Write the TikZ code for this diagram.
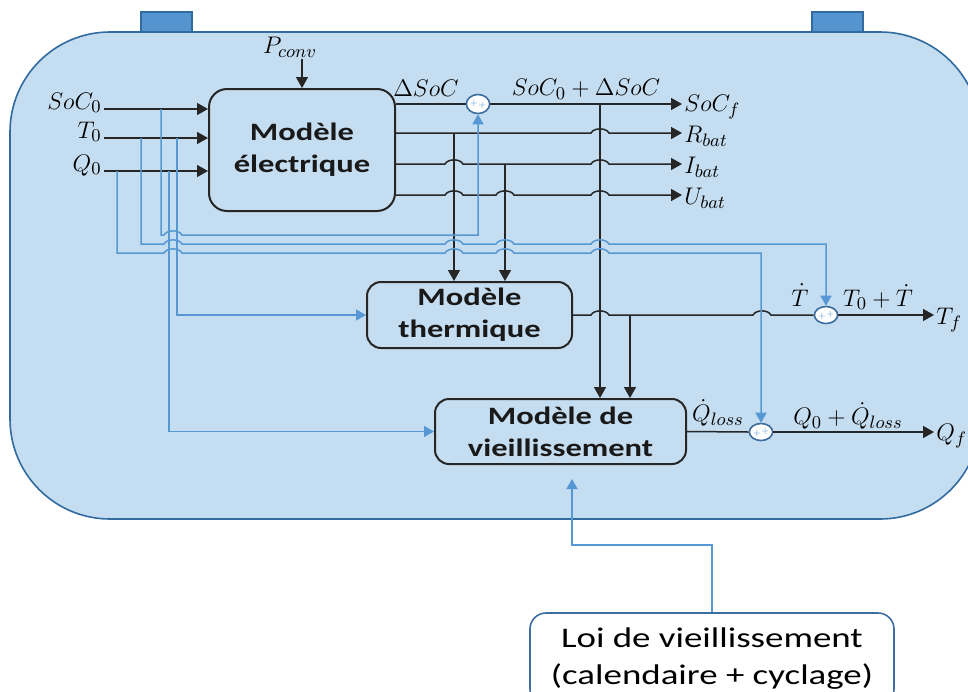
\documentclass[tikz,border=0pt]{standalone}
\usepackage{fontspec}
\usepackage{tikz}
\usetikzlibrary{positioning, arrows.meta, shapes.geometric}
\newfontfamily\boxfont[FakeStretch=1.3]{Carlito}
\DeclareMathSizes{12}{12}{9}{7}
\definecolor{batfill}{RGB}{197,221,240}
\definecolor{batedge}{RGB}{49,107,160}
\definecolor{termfill}{RGB}{84,148,207}
\definecolor{wireblue}{RGB}{86,152,212}
\definecolor{sumedge}{RGB}{60,110,160}
\newcommand{\hopat}[2]{-- (#1-9,#2) .. controls (#1-6,#2-5.5) and (#1+6,#2-5.5) .. (#1+9,#2)}

\begin{document}
\begin{tikzpicture}[x=0.5pt, y=-0.5pt,
  box/.style={draw=black!85, line width=1pt, rounded corners=7pt, inner sep=1pt,
              align=center, text=black!90,
              font=\boxfont\bfseries\fontsize{12.5}{16}\selectfont},
  lbl/.style={inner sep=1pt, font=\fontsize{12}{14}\selectfont},
  summer/.style={ellipse, draw=sumedge, line width=0.8pt, fill=white, inner sep=0pt,
                 minimum width=11pt, minimum height=8.5pt, text=wireblue,
                 font=\fontsize{4}{4}\selectfont},
  wire/.style={black!85, line width=0.75pt},
  arr/.style={wire, -{Triangle[length=5.5pt, width=6pt]}},
  bwire/.style={wireblue, line width=0.75pt},
  barr/.style={bwire, -{Triangle[length=5pt, width=5.5pt]}}
]
\useasboundingbox (0,0) rectangle (968,691);
\clip (0,0) rectangle (968,691);
\filldraw[fill=batfill, draw=batedge, line width=0.8pt, rounded corners=50pt] (10,32) rectangle (980,519);
\filldraw[fill=termfill, draw=batedge, line width=1pt] (141,12) rectangle (192,32);
\filldraw[fill=termfill, draw=batedge, line width=1pt] (812,12) rectangle (863,32);

\node[box, minimum width=93pt, minimum height=61pt, rounded corners=9pt] (elec) at (302,150) {Modèle\\électrique};
\node[box, minimum width=102.5pt, minimum height=33pt] (therm) at (469.5,315) {Modèle\\thermique};
\node[box, minimum width=125.5pt, minimum height=32.5pt] (vieil) at (560.5,431.5) {Modèle de\\vieillissement};
\node[draw=sumedge, fill=white, line width=0.8pt, rounded corners=8pt, minimum width=182pt,
      minimum height=46pt, align=center, font=\boxfont\fontsize{14.2}{18.5}\selectfont]
  (loi) at (712,659) {Loi de vieillissement\\(calendaire + cyclage)};

\node[lbl, anchor=base east] (soc0) at (104,109) {$SoC_0$};
\node[lbl, anchor=base east] (t0) at (104,138) {$T_0$};
\node[lbl, anchor=base east] (q0) at (104,171) {$Q_0$};
\node[lbl] (pconv) at (290,47) {$P_{conv}$};
\node[lbl, anchor=west] (socf) at (682,107) {$SoC_f$};
\node[lbl, anchor=west] (rbat) at (682,136) {$R_{bat}$};
\node[lbl, anchor=west] (ibat) at (682,167) {$I_{bat}$};
\node[lbl, anchor=west] (ubat) at (682,198) {$U_{bat}$};
\node[lbl, anchor=west] (tf) at (934,320) {$T_f$};
\node[lbl, anchor=west] (qf) at (934,436) {$Q_f$};

\node[summer, minimum width=10pt, minimum height=9.5pt] (sumsoc) at (478,104) {\raisebox{1pt}{+}+};
\node[summer] (sumt) at (826,315) {+\raisebox{1pt}{+}};
\node[summer] (sumq) at (761,432) {+\raisebox{1pt}{+}};

\node[lbl] (dsoc) at (426,88) {$\Delta SoC$};
\node[lbl] (socsum) at (586,89) {$SoC_0 + \Delta SoC$};
\node[lbl] (tdot) at (800,295) {$\dot{T}$};
\node[lbl] (tsum) at (878,297) {$T_0 + \dot{T}$};
\node[lbl] (qdot) at (718,413) {$\dot{Q}_{loss}$};
\node[lbl] (qsum) at (848,416) {$Q_0 + \dot{Q}_{loss}$};

\coordinate (socin) at (161,109);
\coordinate (tin1) at (141,138);
\coordinate (tin2) at (177,138);
\coordinate (qin1) at (117,171);
\coordinate (qin2) at (169,171);
\coordinate (rbr) at (454,133);
\coordinate (ibr) at (505,164);
\coordinate (ubr) at (395,195);
\coordinate (socbr) at (600,104);
\coordinate (tbr) at (630,315);

\draw[arr] (soc0.base east) -- (soc0.base east -| elec.west);
\draw[arr] (t0.base east) -- (t0.base east -| elec.west);
\draw[arr] (q0.base east) -- (q0.base east -| elec.west);
\draw[arr] (pconv.south -| elec.north) -- (elec.north);
\draw[wire] (elec.east |- sumsoc) -- (sumsoc.west);
\draw[arr] (sumsoc.east) -- (sumsoc.east -| socf.west);
\draw[arr] (elec.east |- rbr) \hopat{600}{133} -- (rbr -| rbat.west);
\draw[arr] (elec.east |- ibr) \hopat{454}{164} \hopat{600}{164} -- (ibr -| ibat.west);
\draw[arr] (ubr) \hopat{454}{195} \hopat{505}{195} \hopat{600}{195} -- (ubr -| ubat.west);
\draw[arr] (rbr) -- (rbr |- therm.north);
\draw[arr] (ibr) -- (ibr |- therm.north);
\draw[arr] (socbr) -- (socbr |- vieil.north);
\draw[wire] (therm.east) \hopat{600}{315} \hopat{762}{315} -- (sumt.west);
\draw[arr] (tbr) -- (tbr |- vieil.north);
\draw[arr] (sumt.east) -- (sumt.east -| tf.west);
\draw[wire] (vieil.east) -- (sumq.west);
\draw[arr] (sumq.east) -- (sumq.east -| qf.west);

\draw[barr] (socin) -- (161,235) \hopat{173}{235} -| (sumsoc.south);
\draw[barr] (tin1) -- (141,244) \hopat{173}{244} \hopat{454}{244} \hopat{505}{244} \hopat{600}{244} -| (sumt.north);
\draw[barr] (qin1) -- (117,253) \hopat{173}{253} \hopat{454}{253} \hopat{505}{253} \hopat{600}{253} -| (sumq.north);
\draw[barr] (tin2) |- (therm.west);
\draw[barr] (qin2) |- (vieil.west);
\draw[barr, shorten >=7pt] (loi.north) -- ++(0,-67) -| ([xshift=5.75pt]vieil.south);
\end{tikzpicture}
\end{document}
